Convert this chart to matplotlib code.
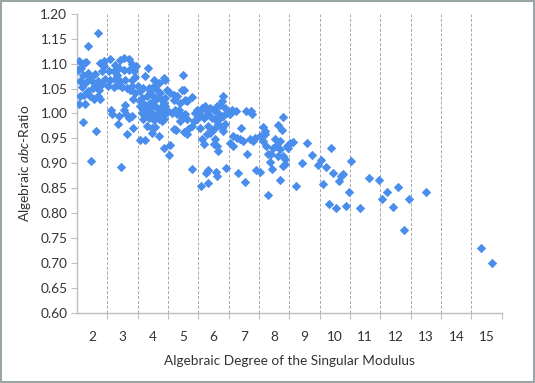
import numpy as np
import matplotlib.pyplot as plt

# algebraic degree (x) and algebraic abc-ratio (y)
deg = [
    # 1.5 - 2.5
    1.58, 1.53, 1.63, 1.72, 1.79, 1.61, 1.69, 1.85, 1.94, 1.66, 1.61, 1.77, 1.85,
    2.00, 2.10, 1.94, 2.05, 2.18, 2.27, 2.22, 2.32, 2.25, 2.38, 2.32, 2.43, 2.10,
    2.18, 1.87, 2.19, 1.97, 2.14, 1.71, 1.55, 1.81, 2.02, 1.74, 2.38,
    # 2.5 - 3.5
    2.60, 2.76, 2.93, 3.04, 3.20, 3.31, 3.39, 3.43, 2.54, 2.71, 2.87, 3.04, 3.20,
    2.60, 2.76, 2.93, 3.09, 3.31, 2.51, 2.71, 2.84, 2.98, 3.14, 3.31, 3.42, 2.62,
    2.66, 2.87, 3.09, 3.04, 3.12, 3.21, 3.32, 3.14, 2.85, 3.34, 3.36, 3.42, 2.94,
    3.25, 2.82,
    # 3.5 - 4.5
    3.58, 3.69, 3.86, 4.02, 4.13, 4.24, 3.64, 3.80, 3.97, 4.13, 4.30, 4.41, 3.58,
    3.75, 3.91, 4.08, 4.24, 4.41, 3.64, 3.80, 3.97, 4.13, 4.30, 4.41, 3.69, 3.86,
    4.02, 4.19, 4.35, 3.56, 4.46, 4.41, 4.35, 4.05, 4.19, 3.75, 3.84, 3.97, 4.08,
    4.19, 3.97, 3.80, 4.30, 3.56, 3.73, 4.36, 3.50, 3.91, 4.08, 3.69, 4.19, 3.89,
    4.35, 4.46,
    # 4.5 - 5.5
    4.57, 4.68, 4.79, 4.95, 5.03, 5.06, 5.12, 4.90, 4.73, 4.79, 4.95, 5.06, 4.68,
    4.76, 4.90, 5.12, 5.17, 5.28, 5.34, 5.03, 5.12, 5.45, 5.39, 4.63, 4.54, 4.56,
    5.00, 5.29, 5.28, 4.68, 4.87,
    # 5.5 - 6.5
    5.60, 5.74, 5.83, 5.83, 6.08, 6.10, 6.42, 5.61, 5.72, 5.78, 5.56, 5.47, 5.67,
    5.83, 6.00, 6.11, 6.21, 6.32, 6.27, 6.38, 5.94, 6.05, 6.21, 6.32, 6.43, 6.16,
    6.27, 6.00, 5.78, 5.89, 6.05, 6.00, 6.11, 6.16, 5.61, 5.67, 5.56, 5.83, 6.38,
    6.30, 5.89, 6.16,
    # 6.5 - 7.5
    6.60, 6.54, 6.54, 6.65, 6.76, 6.87, 6.98, 7.20, 7.31, 7.37, 6.75, 7.07, 7.22,
    7.28, 6.92, 6.80, 7.02, 7.11, 7.40, 6.65,
    # 7.5 - 8.5
    7.62, 7.54, 7.78, 8.29, 8.13, 8.24, 8.20, 7.94, 7.86, 7.53, 7.69, 7.63, 7.74,
    7.69, 7.78, 7.89, 8.02, 8.07, 7.96, 8.18, 8.18, 8.29, 8.35, 8.41, 8.35, 8.29,
    8.13,
    # 8.5 and up
    8.52, 8.46, 8.61, 8.72, 8.90, 9.08, 9.25, 9.54, 9.43, 9.87, 9.71, 9.61, 9.79,
    10.04, 9.94, 10.12, 10.20, 10.28, 10.36, 10.45, 10.54, 10.84, 11.13, 11.45,
    11.55, 11.72, 11.91, 12.08, 12.27, 12.45, 13.00, 14.82, 15.16,
]
ratio = [
    # 1.5 - 2.5
    1.106, 1.088, 1.092, 1.102, 1.103, 1.065, 1.078, 1.082, 1.074, 1.053, 1.035,
    1.020, 1.045, 1.065, 1.056, 1.035, 1.029, 1.035, 1.029, 1.048, 1.060, 1.102,
    1.105, 1.085, 1.070, 1.080, 1.065, 1.136, 1.161, 0.905, 0.965, 0.983, 1.019,
    1.063, 1.051, 1.038, 1.095,
    # 2.5 - 3.5
    1.110, 1.098, 1.107, 1.112, 1.110, 1.100, 1.085, 1.095, 1.085, 1.085, 1.092,
    1.088, 1.087, 1.068, 1.070, 1.065, 1.068, 1.067, 1.055, 1.053, 1.058, 1.053,
    1.051, 1.056, 1.074, 1.008, 0.998, 0.995, 1.018, 1.008, 0.998, 0.991, 0.995,
    0.959, 0.978, 0.971, 1.030, 1.041, 0.892, 1.047, 1.078,
    # 3.5 - 4.5
    1.045, 1.052, 1.052, 1.055, 1.048, 1.041, 1.031, 1.035, 1.038, 1.031, 1.028,
    1.031, 1.015, 1.018, 1.021, 1.015, 1.011, 1.015, 1.001, 0.998, 1.001, 0.998,
    1.001, 0.998, 0.988, 0.991, 0.987, 0.989, 0.988, 1.025, 1.048, 1.068, 1.072,
    1.068, 1.062, 1.075, 1.092, 0.971, 0.973, 0.955, 0.961, 0.975, 0.985, 0.947,
    0.947, 0.930, 1.055, 1.045, 1.028, 1.008, 1.008, 1.011, 1.021, 1.008,
    # 4.5 - 5.5
    1.041, 1.028, 1.035, 1.048, 1.047, 1.028, 1.025, 1.021, 1.008, 0.998, 0.995,
    0.998, 0.968, 0.966, 0.985, 0.988, 0.968, 0.975, 0.985, 0.963, 0.958, 1.008,
    1.001, 1.001, 0.917, 0.937, 1.078, 1.034, 0.889, 1.038, 1.008,
    # 5.5 - 6.5
    0.855, 0.880, 0.887, 0.860, 0.882, 0.875, 0.890, 1.011, 1.015, 1.005, 0.998,
    0.988, 0.991, 0.998, 1.008, 1.015, 1.018, 1.035, 1.025, 1.011, 0.991, 0.988,
    0.991, 0.995, 1.001, 0.978, 0.971, 0.968, 0.958, 0.961, 0.948, 0.938, 0.934,
    0.924, 0.948, 0.938, 0.971, 0.975, 0.978, 0.965, 1.011, 1.001,
    # 6.5 - 7.5
    1.008, 0.998, 0.941, 0.934, 0.951, 0.948, 0.944, 0.948, 0.944, 0.951, 1.005,
    1.005, 1.006, 0.998, 0.971, 0.881, 0.863, 0.919, 0.886, 0.955,
    # 7.5 - 8.5
    0.973, 0.882, 0.837, 0.993, 0.977, 0.966, 0.867, 0.889, 0.902, 0.955, 0.958,
    0.944, 0.934, 0.965, 0.918, 0.918, 0.948, 0.934, 0.931, 0.928, 0.944, 0.914,
    0.908, 0.934, 0.898, 0.894, 0.914,
    # 8.5 and up
    0.941, 0.931, 0.942, 0.855, 0.900, 0.941, 0.916, 0.906, 0.896, 0.930, 0.893,
    0.858, 0.819, 0.810, 0.880, 0.864, 0.874, 0.879, 0.815, 0.843, 0.905, 0.810,
    0.870, 0.867, 0.829, 0.843, 0.813, 0.852, 0.767, 0.829, 0.843, 0.731, 0.700,
]

degree_labels = [str(d) for d in range(2, 16)]

plt.rcParams['font.family'] = ['Lato', 'DejaVu Sans']
plt.rcParams['mathtext.fontset'] = 'custom'
plt.rcParams['mathtext.it'] = 'Lato:italic'
txt = '#333333'
axcol = '#bfbfbf'
fs = 9.8

fig = plt.figure(figsize=(5.35, 3.83), dpi=100)
fig.patches.append(plt.Rectangle((0.002, 0.003), 0.996, 0.994, transform=fig.transFigure,
                                 fill=False, edgecolor='#9aa6a6', linewidth=1.5))
ax = fig.add_axes([0.144, 0.183, 0.794, 0.781])

ax.scatter(deg, ratio, marker='D', s=23, color='#4a8eed', linewidths=0, zorder=3)

ax.set_xlim(1.5, 15.5)
ax.set_ylim(0.60, 1.20)

# dashed grid lines sit between the degree labels
ax.set_xticks(np.arange(2.5, 15.6, 1))
ax.set_xticklabels([])
ax.set_xticks(range(2, 16), minor=True)
ax.set_xticklabels(degree_labels, minor=True)
ax.tick_params(axis='x', which='major', length=4, color=axcol, direction='out')
ax.tick_params(axis='x', which='minor', length=0, pad=13, labelsize=fs, labelcolor=txt)
ax.xaxis.grid(True, which='major', linestyle=(0, (3, 2)), color='#a6a6a6', linewidth=0.7)

ax.set_yticks(np.arange(0.60, 1.201, 0.05))
ax.set_yticklabels(['%.2f' % v for v in np.arange(0.60, 1.201, 0.05)])
ax.tick_params(axis='y', length=4, color=axcol, labelsize=fs, labelcolor=txt, pad=3)

for s in ['top', 'right']:
    ax.spines[s].set_visible(False)
for s in ['left', 'bottom']:
    ax.spines[s].set_color(axcol)
    ax.spines[s].set_linewidth(1)

ax.set_xlabel('Algebraic Degree of the Singular Modulus', fontsize=fs, color=txt, labelpad=9)
ax.set_ylabel('Algebraic $abc$-Ratio', fontsize=fs, color=txt, labelpad=5)

plt.savefig('out.png', dpi=100)
